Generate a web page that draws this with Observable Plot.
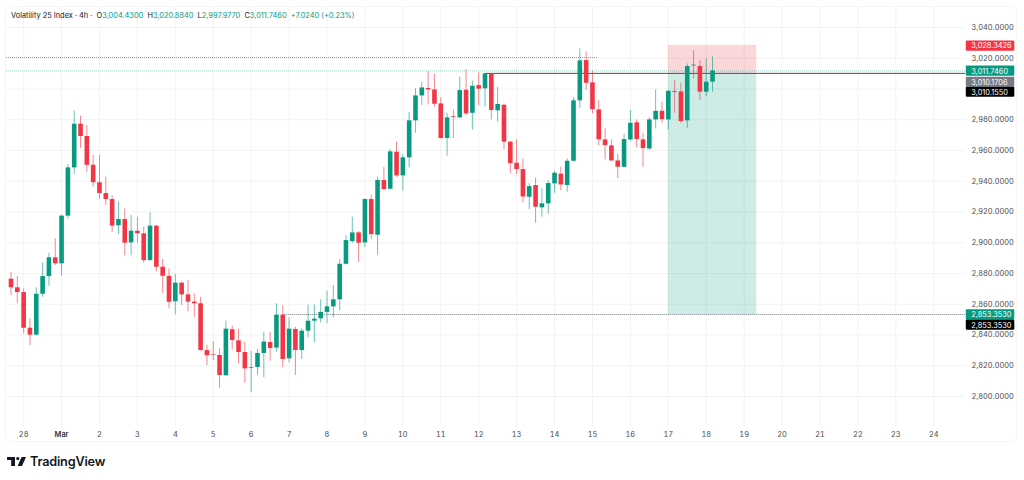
<!DOCTYPE html>
<html>
<head>
<meta charset="utf-8">
<script src="https://cdn.jsdelivr.net/npm/d3@7"></script>
<script src="https://cdn.jsdelivr.net/npm/@observablehq/plot@0.6"></script>
<style>
  body { margin: 0; background: #fff; font-family: Inter, sans-serif; }
  #wrap { position: relative; width: 1024px; height: 480px; overflow: hidden; }
  #pane { position: absolute; left: 5px; top: 6px; width: 1012px; height: 436px; border: 1px solid #f5f5f5; border-radius: 6px; box-sizing: border-box; }
  #legend { position: absolute; left: 11px; top: 10px; font-size: 7.4px; line-height: 11px; color: #131722; white-space: pre; }
  #legend b { font-weight: 400; color: #089981; }
  #logo { position: absolute; left: 7px; top: 452px; height: 18px; display: flex; align-items: center; color: #131722; font-size: 12.7px; font-weight: 600; letter-spacing: -0.2px; }
  #logo svg { margin-right: 4px; }
  #chart { position: absolute; left: 0; top: 0; }
</style>
</head>
<body>
<div id="wrap">
  <div id="pane"></div>
  <div id="chart"></div>
  <div id="legend">Volatility 25 Index · 4h ·  O<b>3,004.4300</b>  H<b>3,020.8840</b>  L<b>2,997.9770</b>  C<b>3,011.7460</b>  <b>+7.0240 (+0.23%)</b></div>
  <div id="logo"><svg width="19" height="9" viewBox="0 0 19 9"><path fill="#131722" d="M0 0H8V9H4.2V3H0Z"/><circle fill="#131722" cx="10.8" cy="1.6" r="1.6"/><path fill="#131722" d="M14.6 0H19L15 9H10.6Z"/></svg>TradingView</div>
</div>
<script>
const candleOpen = [2876.3,2870.7,2867.6,2844.4,2839.9,2866.5,2878,2890.2,2886.3,2917.3,2948.7,2977.1,2969.1,2950.4,2939,2932,2928.1,2911,2915.1,2899.9,2907.5,2905.8,2888.4,2910.8,2884.1,2878.2,
  2861.6,2873.7,2866.1,2861.4,2860.3,2829.9,2827.3,2826.7,2813.5,2843.4,2836.2,2828.6,2818.4,2818.9,2828,2835.1,2831.5,2852.9,2824.5,2843.6,2829.9,2842.5,2849,2850.5,2854.7,2858.3,
  2862.9,2886,2900.8,2906.4,2899.9,2928.1,2904.9,2940.5,2934.8,2958.9,2943.5,2955.2,2979.3,2995.5,3000.3,2999.4,2990.3,2967.8,2981.9,2981.2,2999.2,2984.2,3002.2,3000.1,3009.8,
  2985.8,2989.4,2965.4,2951.7,2947.6,2929.6,2937.2,2922.7,2925.3,2938.3,2944.6,2937.2,2953,2992.3,3018.5,3004,2986.4,2966.9,2963,2953.2,2949.1,2966.9,2978,2966.9,2961,2979.9,2985.5,2979.9,2998.3,2998.1,2979.3,3015,3014.6,2997.9,3004.43];
const candleHigh = [2880.6,2878,2870,2850.5,2870.7,2886.9,2893.2,2902.5,2918,2950.9,2985.6,2982.3,2976.2,2956.7,2956.7,2942.6,2930.7,2926.4,2922,2917.7,2916.6,2910.1,2919.4,2911.2,2889.1,2883,
  2879.4,2874.5,2875.5,2866.8,2864.6,2833.2,2835.8,2831,2849,2845.8,2843.8,2835.4,2829.3,2830.6,2841.9,2841.7,2860.3,2859.2,2851.2,2845,2844,2859.6,2859.6,2862.9,2868.5,2872.2,
  2889.1,2904.7,2916.6,2907.3,2928.5,2931.1,2942.6,2949.1,2960.4,2965.4,2957.4,2984.9,3000.3,3004.2,3011.3,3009.8,2994.2,2984.2,2986.4,3007.7,3012.6,3005.1,3010.5,3010.1,3010.1,
  3001.1,2990.3,2966,2967.1,2954.5,2938.3,2942,2935,2940.4,2946.5,2949.1,2954.5,2994.2,3026.1,3024.1,3011.6,2992.5,2974,2966.9,2957.4,2970.4,2986,2979.9,2971.2,2981.2,2999.4,2991.4,2999,3005.5,3003.7,3016.3,3025,3018.5,3019.6,3020.884];
const candleLow = [2865.7,2860.3,2840.7,2833.2,2839.5,2864.6,2871.7,2885.2,2878.2,2915.3,2944.4,2961.5,2945.7,2936.1,2928.3,2924.4,2906.6,2905.3,2891.5,2891.5,2899.7,2886.7,2888,2881.3,2867.2,2857,
  2853.1,2859.2,2855.1,2851.6,2829.5,2820.2,2823.4,2805.4,2813,2830.4,2821.3,2808.7,2802.8,2813.7,2812.2,2823,2828.9,2818.7,2821.9,2813.7,2824.1,2838.2,2835.1,2847.9,2847.3,2851.2,
  2855.9,2885.6,2899.5,2887.3,2896.9,2902.3,2891.9,2934.2,2934.4,2942.6,2933.7,2948.7,2971.2,2989.2,2989.7,2988.1,2967.4,2956.3,2967.8,2980.8,2982.7,2973.4,2989.2,2988.1,2979.9,
  2978.4,2960.6,2944.8,2944.1,2925.9,2921.6,2912.7,2916.6,2918.5,2932.2,2933.9,2932.9,2952.6,2987.1,2999,2983.8,2963,2953.9,2953,2941.7,2948.7,2966,2961.7,2949.1,2960,2974,2977.7,2973.4,2984.2,2977.7,2974.5,3006.6,2992.5,2995.1,2997.977];
const candleClose = [2870.7,2867.6,2844.4,2839.9,2866.5,2878,2890.2,2886.3,2917.3,2948.7,2977.1,2969.1,2950.4,2939,2932,2928.1,2910.8,2915.1,2899.7,2907.5,2905.8,2888.4,2910.8,2884.1,2878.2,2861.3,
  2873.7,2866.1,2861.4,2860.3,2829.9,2826.5,2826.9,2813.7,2843.8,2836.4,2828.6,2818,2818.9,2828,2835.4,2831.2,2852.9,2824.1,2843.8,2829.9,2842.5,2849,2850.3,2854.7,2858.3,2862.9,
  2886,2901.4,2906.4,2899.7,2928.1,2905.3,2940.5,2934.6,2959.1,2943.5,2955.2,2979.3,2995.5,3000.7,2999.4,2990.1,2967.8,2981.2,2981.4,2999,2983.8,3001.8,2999.9,3009.8,2986,
  2989.9,2965.4,2951.5,2947.6,2929.8,2936.5,2923.1,2925.3,2938.5,2945.2,2937.6,2953,2992.3,3018.3,3003.7,2986.6,2966.9,2963.2,2953.2,2949.1,2967.1,2977.7,2967.1,2961.3,2979.9,2985.5,2980.1,2998.5,2997.7,2978.8,3014.6,3015.5,2997.9,3004.4,3011.746];

const gridPrices = [3040,3020,3000,2980,2960,2940,2920,2900,2880,2860,2840,2820,2800];
// 3,000 has no visible label in the picture: the price tags sit on top of it
const priceLabels = [3040,3020,2980,2960,2940,2920,2900,2880,2860,2840,2820,2800];
const dayLabels = ["28","Mar","2","3","4","5","6","7","8","9","10","11","12","13","14","15","16","17","18","19","20","21","22","23","24"];

const tagPrices = [3028.3426,3011.746,3010.1706,3010.155,2853.353,2853.353];
const tagSlots = [3027.9,3011.6,3004.4,2997.9,2853.1,2846.4];
const tagColors = ["#f23645","#089981","#787b86","#000000","#089981","#000000"];

const riskTop = 3028.3426;
const entryPrice = 3010.1706;
const targetPrice = 2853.353;
const lastClose = 3011.746;
const levelHigh = 3020.5;
const levelEntry = 3010.155;

const firstCandle = new Date("2025-02-27T16:00Z");
const green = "#089981";
const red = "#f23645";

const xStart = new Date("2025-02-27T13:09Z");
const xEnd = new Date("2025-03-24T20:06Z");
const boxStart = new Date("2025-03-17T00:00Z");
const boxEnd = new Date("2025-03-19T08:00Z");
const tagStart = new Date("2025-03-24T20:36Z");
const tagEnd = new Date("2025-03-26T03:18Z");

const candles = candleOpen.map((open, i) => ({
  time: d3.utcHour.offset(firstCandle, 4 * i),
  open, high: candleHigh[i], low: candleLow[i], close: candleClose[i],
  color: candleClose[i] >= open ? green : red
}));
const dayTicks = dayLabels.map((d, i) => d3.utcDay.offset(new Date("2025-02-28T00:00Z"), i));
const tags = tagPrices.map((price, i) => ({price, slot: tagSlots[i], color: tagColors[i]}));
const dayLabel = t => dayLabels[dayTicks.findIndex(d => +d === +t)];

const chart = Plot.plot({
  width: 1024,
  height: 480,
  marginLeft: 6,
  marginRight: 59,
  marginTop: 7,
  marginBottom: 54,
  x: {type: "utc", domain: [xStart, xEnd]},
  y: {domain: [2780.5, 3053]},
  color: {type: "identity"},
  style: {fontFamily: "Inter, sans-serif", background: "transparent", overflow: "visible"},
  marks: [
    Plot.gridX(dayTicks, {stroke: "#f3f3f3", strokeOpacity: 1}),
    Plot.gridY(gridPrices, {stroke: "#f3f3f3", strokeOpacity: 1}),
    // position tool
    Plot.rect([0], {x1: boxStart, x2: boxEnd, y1: entryPrice, y2: riskTop, fill: red, fillOpacity: 0.2}),
    Plot.rect([0], {x1: boxStart, x2: boxEnd, y1: targetPrice, y2: entryPrice, fill: green, fillOpacity: 0.2}),
    // levels
    Plot.ruleY([levelHigh], {x1: xStart, x2: new Date("2025-03-15T04:00Z"), stroke: "#787b86", strokeOpacity: 0.75, strokeDasharray: "1,1"}),
    Plot.ruleY([lastClose], {x1: xStart, x2: xEnd, stroke: green, strokeOpacity: 0.4, strokeDasharray: "1,1"}),
    Plot.ruleY([levelEntry], {x1: new Date("2025-03-12T04:00Z"), x2: xEnd, stroke: "#4a4e59"}),
    Plot.ruleY([targetPrice], {x1: new Date("2025-03-06T20:00Z"), x2: xEnd, stroke: "#5d606b", strokeOpacity: 0.85, strokeDasharray: "1,1"}),
    // candles
    Plot.ruleX(candles, {x: "time", y1: "low", y2: "high", stroke: "color", strokeOpacity: 0.6}),
    Plot.ruleX(candles, {x: "time", y1: "open", y2: "close", stroke: "color", strokeWidth: 4.6}),
    // axes
    Plot.axisY(priceLabels, {anchor: "right", tickSize: 0, tickPadding: 6, label: null, fontSize: 7.4, fill: "#4a4a4f", tickFormat: d3.format(",.4f")}),
    Plot.axisX(dayTicks.filter((d, i) => i !== 1), {anchor: "bottom", tickSize: 0, tickPadding: 5, label: null, fontSize: 7.4, fill: "#4a4a4f", tickFormat: dayLabel}),
    Plot.axisX([dayTicks[1]], {anchor: "bottom", tickSize: 0, tickPadding: 5, label: null, fontSize: 7.4, fontWeight: 600, fill: "#33343a", tickFormat: dayLabel}),
    // price tags
    Plot.rect(tags, {x1: tagStart, x2: tagEnd, y1: d => d.slot - 3.3, y2: d => d.slot + 3.3, fill: "color", rx: 1}),
    Plot.text(tags, {x: tagStart, dx: 5, y: "slot", text: d => d3.format(",.4f")(d.price), textAnchor: "start", fill: "#fff", fontSize: 7.4})
  ]
});
d3.select("#chart").append(() => chart);
</script>
</body>
</html>
